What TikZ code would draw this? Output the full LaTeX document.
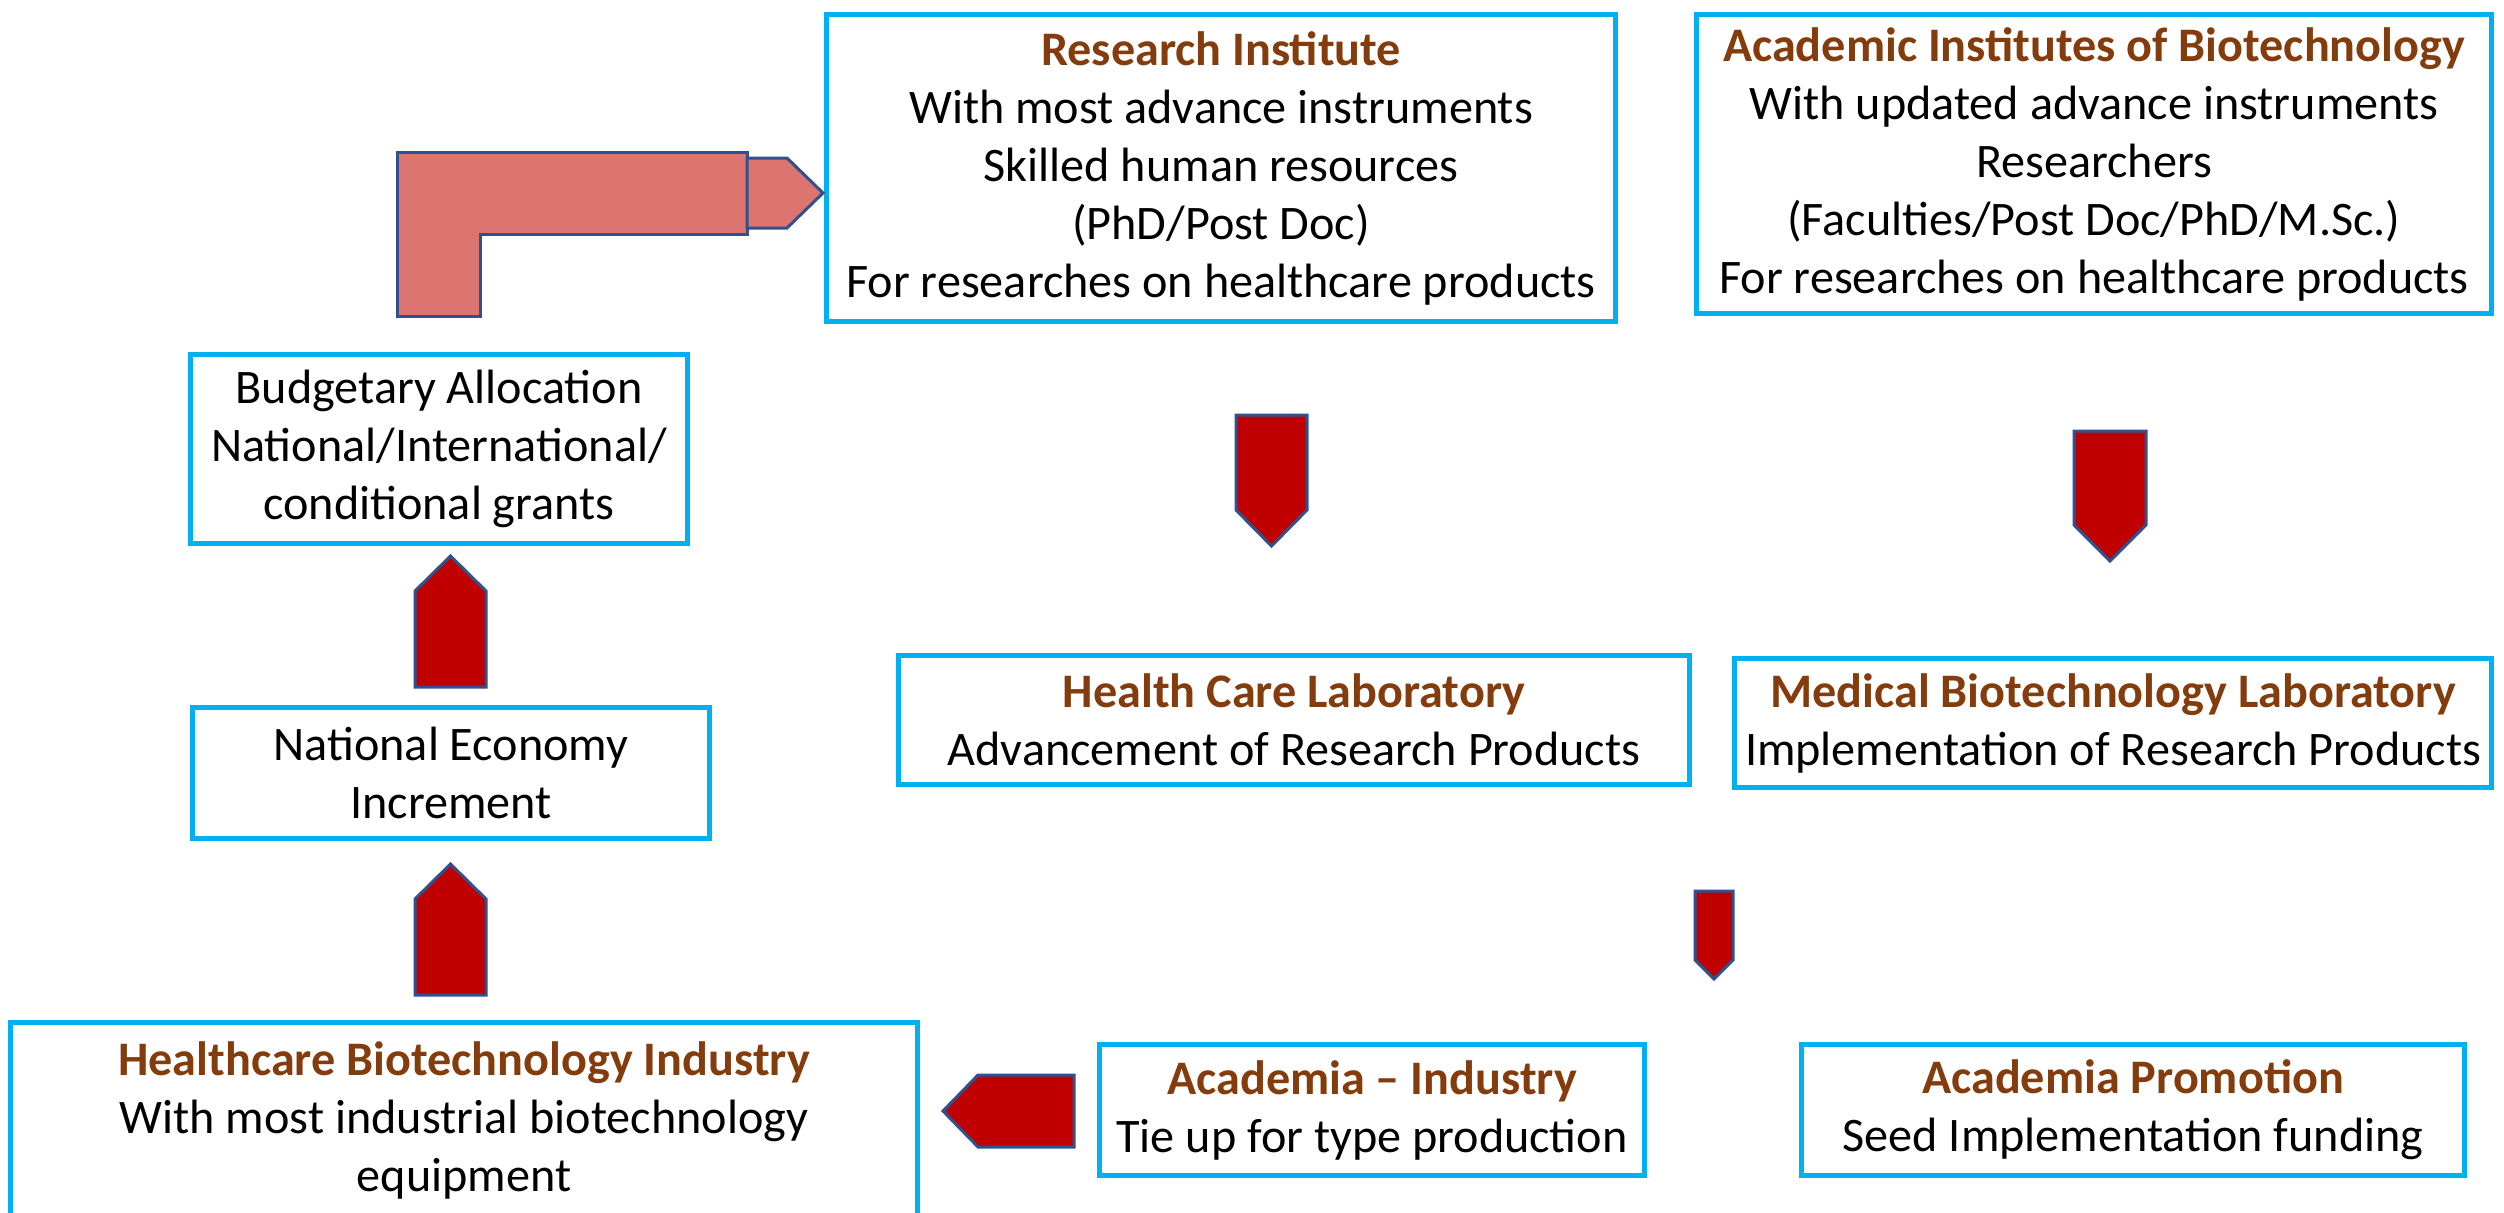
\documentclass[tikz,border=0pt]{standalone}
\usepackage{fontspec}
\setmainfont{Carlito}
\usepackage{tikz}
\usetikzlibrary{positioning}

\definecolor{boxcyan}{RGB}{0,176,240}
\definecolor{titlebrown}{RGB}{132,60,12}
\definecolor{arrowred}{RGB}{192,0,0}
\definecolor{arrowedge}{RGB}{47,82,143}
\definecolor{bendred}{RGB}{220,116,112}

\newcommand{\ttl}[1]{{\bfseries\color{titlebrown}#1}}

\begin{document}
\begin{tikzpicture}[x=0.01cm, y=-0.01cm,
  box/.style={draw=boxcyan, line width=0.05cm, align=center, inner sep=0pt,
              font=\fontsize{13.7}{16.5}\selectfont},
  blockarrow/.style={fill=arrowred, draw=arrowedge, line width=0.03cm}]

  \useasboundingbox (0,0) rectangle (2504,1212);

	%draw boxes
  \node[box, minimum width=7.89cm, minimum height=3.06cm] (resinst) at (1221,168) {\ttl{Research Institute}\\
        With most advance instruments\\ Skilled human resources\\ (PhD/Post Doc)\\ For researches on healthcare products};
  \node[box, minimum width=7.95cm, minimum height=2.98cm] (acadinst) at (2094,164) {\ttl{Academic Institutes of Biotechnology}\\
        With updated advance instruments\\ Researchers\\ (Faculties/Post Doc/PhD/M.Sc.)\\ For researches on healthcare products};
  \node[box, minimum width=4.97cm, minimum height=1.89cm] (budget) at (439,449) {Budgetary Allocation\\ National/International/\\ conditional grants};
  \node[box, minimum width=5.17cm, minimum height=1.30cm] (natecon) at (451,773) {National Economy\\ Increment};
  \node[box, minimum width=7.90cm, minimum height=1.29cm] (hclab) at (1294,720) {\ttl{Health Care Laboratory}\\ Advancement of Research Products};
  \node[box, minimum width=7.56cm, minimum height=1.29cm] (medlab) at (2113,723) {\ttl{Medical Biotechnology Laboratory}\\ Implementation of Research Products};
  \node[box, minimum width=9.07cm, minimum height=1.95cm] (industry) at (464,1120) {\ttl{Healthcare Biotechnology Industry}\\
        With most industrial biotechnology\\ equipment};
  \node[box, minimum width=5.44cm, minimum height=1.30cm] (acadind) at (1372,1110) {\ttl{Academia \textendash{} Industry}\\ Tie up for type production};
  \node[box, minimum width=6.62cm, minimum height=1.30cm] (promo) at (2133,1110) {\ttl{Academia Promotion}\\ Seed Implementation funding};

	%block arrows up and down
  \foreach \xa/\xb/\ya/\yb/\yc in {1236/1307/415/510/546, 2074/2146/431/525/561, 1695/1733/891/960/979,
                                    415/486/687/591/556, 415/486/995/899/864}{
    \draw[blockarrow] (\xa,\ya) -- (\xb,\ya) -- (\xb,\yb) -- ({(\xa+\xb)/2},\yc) -- (\xa,\yb) -- cycle;
  }

	%block arrow to the left
  \draw[blockarrow] (1074,1075) -- (978,1075) -- (943,1111) -- (978,1147) -- (1074,1147) -- cycle;

	%bent arrow into the research institute
  \draw[blockarrow, fill=bendred] (397,152) -- (747,152) -- (747,234) -- (480,234) -- (480,316) -- (397,316) -- cycle;
  \draw[blockarrow, fill=bendred] (747,158) -- (787,158) -- (823,193) -- (787,228) -- (747,228) -- cycle;

\end{tikzpicture}
\end{document}
